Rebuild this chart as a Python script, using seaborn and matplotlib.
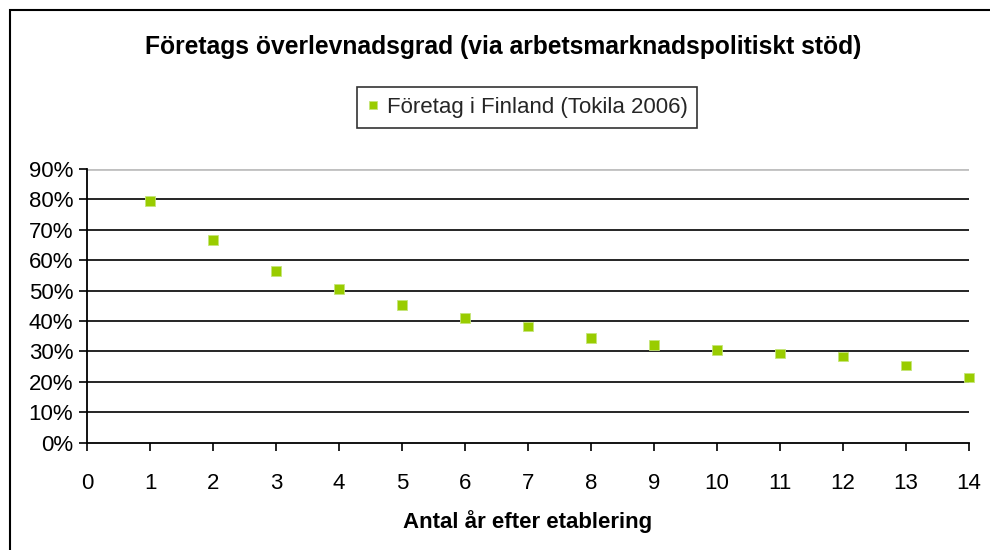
import matplotlib
matplotlib.use("Agg")
import matplotlib.pyplot as plt
import seaborn as sns
import pandas as pd
from matplotlib.patches import Rectangle
from matplotlib.ticker import FuncFormatter, MultipleLocator

years = [1, 2, 3, 4, 5, 6, 7, 8, 9, 10, 11, 12, 13, 14]
survival = [0.795, 0.666, 0.565, 0.505, 0.453, 0.411, 0.382, 0.344, 0.322, 0.305, 0.293, 0.283, 0.254, 0.215]
series_name = "Företag i Finland (Tokila 2006)"
title = "Företags överlevnadsgrad (via arbetsmarknadspolitiskt stöd)"
xlabel = "Antal år efter etablering"

df = pd.DataFrame({"year": years, "survival": survival, "series": series_name})

sns.set_theme(style="white")
plt.rcParams['font.family'] = ['Liberation Sans', 'DejaVu Sans']

fig = plt.figure(figsize=(9.9, 5.5), dpi=100)
ax = fig.add_axes([87/990, 1-442.7/550, (969-87)/990, (442.7-169)/550])

# outer chart border
fig.patches.append(Rectangle((10/990, -0.1), 1.2, 1 - 10/550 + 0.1, transform=fig.transFigure,
                             fill=False, edgecolor='black', linewidth=1.5))

sns.scatterplot(data=df, x="year", y="survival", hue="series", palette=["#99CC00"],
                marker="s", s=48, edgecolor="#C6E67A", linewidth=0.6, ax=ax, zorder=3, clip_on=False)

ax.set_xlim(0, 14)
ax.set_ylim(0, 0.9)
ax.xaxis.set_major_locator(MultipleLocator(1))
ax.yaxis.set_major_locator(MultipleLocator(0.1))
ax.yaxis.set_major_formatter(FuncFormatter(lambda v, p: f"{round(v*100):.0f}%"))

for v in [0.1, 0.2, 0.3, 0.4, 0.5, 0.6, 0.7, 0.8]:
    ax.axhline(v, color='black', linewidth=1.2, zorder=1)
ax.axhline(0.9, color='#C0C0C0', linewidth=2.0, zorder=1)

for s in ['top', 'right']:
    ax.spines[s].set_visible(False)
for s in ['left', 'bottom']:
    ax.spines[s].set_color('black')
    ax.spines[s].set_linewidth(1.3)

ax.tick_params(axis='both', which='major', direction='out', length=6, width=1.2,
               color='black', labelsize=16, labelcolor='black', left=True, bottom=True)
ax.tick_params(axis='x', pad=16)
ax.tick_params(axis='y', pad=4)

ax.set_xlabel(xlabel, fontsize=16, fontweight='bold', labelpad=11, color='black')
ax.set_ylabel("")

fig.text(503/990, 1 - 47/550, title, ha='center', va='center', fontsize=17.7,
         fontweight='bold', color='black')

leg = ax.legend(loc='center', bbox_to_anchor=(527/990, 1 - 107.5/550), bbox_transform=fig.transFigure,
                frameon=True, fancybox=False, fontsize=16, handletextpad=0.3, borderpad=0.45,
                handlelength=0.6, markerscale=0.8, borderaxespad=0)
leg.get_frame().set_edgecolor('black')
leg.get_frame().set_linewidth(1.2)

fig.savefig("out.png", dpi=100, facecolor='white')
